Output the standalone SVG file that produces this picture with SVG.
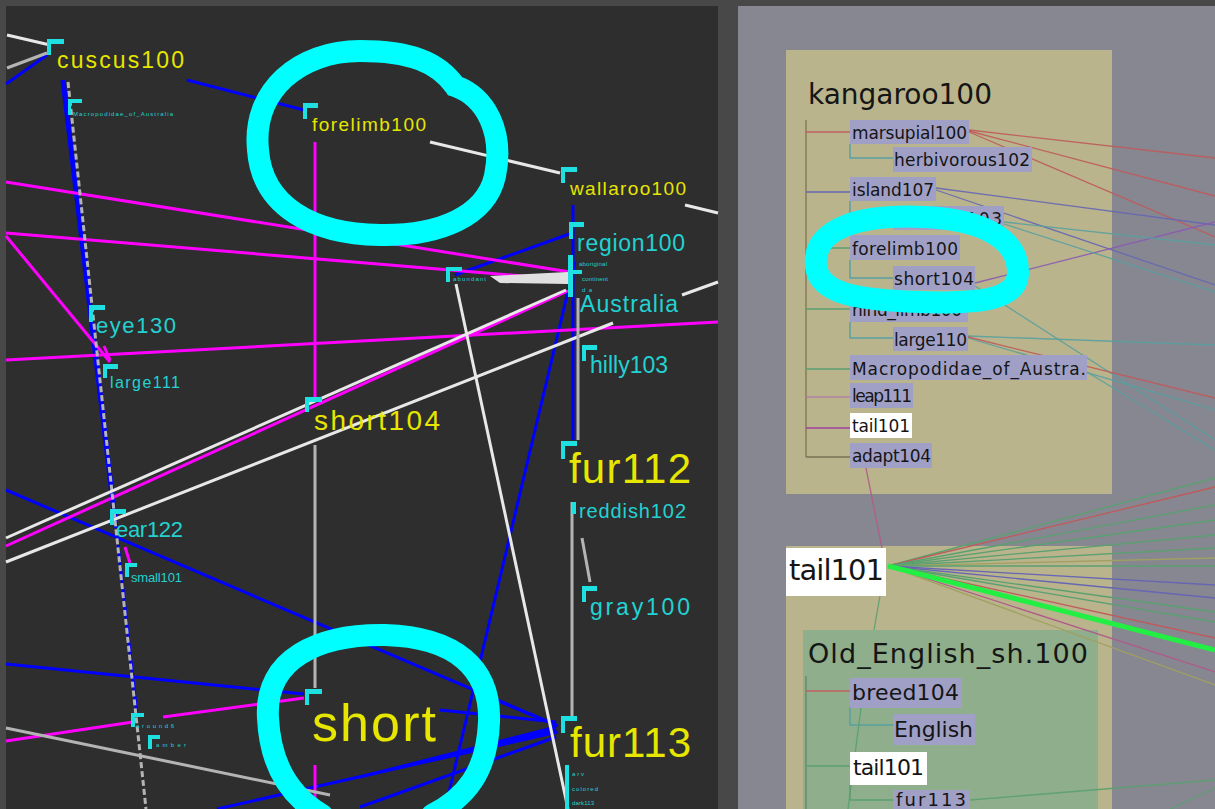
<svg xmlns="http://www.w3.org/2000/svg" width="1215" height="809" viewBox="0 0 1215 809">
<style>
.mk{fill:#1fe0e0}
.ly{fill:#e6e600;font-family:"Liberation Sans",Arial,sans-serif}
.lc{fill:#22d2d2;font-family:"Liberation Sans",Arial,sans-serif}
.tiny{fill:#22d2d2;font-family:"Liberation Sans",Arial,sans-serif;font-size:6px}
.b{stroke:#0000ff;stroke-width:3;fill:none}
.bt{stroke:#0000ff;stroke-width:5;fill:none}
.m{stroke:#ff00ff;stroke-width:3;fill:none}
.w{stroke:#e8e8e8;stroke-width:3;fill:none}
.g{stroke:#b4b4b4;stroke-width:3;fill:none}
.ring{stroke:#00ffff;stroke-width:22;fill:none;stroke-linecap:round}
.it{fill:#a0a0c6}
.rt{fill:#151515;font-family:"DejaVu Sans",Verdana,sans-serif}
.tr{stroke-width:1.5;fill:none}
.th{stroke-width:1.3;fill:none;opacity:0.9}
</style>

<!-- backgrounds -->
<rect x="0" y="0" width="1215" height="809" fill="#484848"/>
<rect x="6" y="6" width="712" height="803" fill="#2e2e2e"/>
<rect x="738" y="6" width="477" height="803" fill="#878791"/>

<!-- right panel containers -->
<rect id="kangaroo-box" x="786" y="50" width="326" height="444" fill="#b9b48c"/>
<rect id="oldenglish-outer" x="786" y="546" width="326" height="263" fill="#b9b48c"/>
<rect id="oldenglish-box" x="803" y="630" width="295" height="179" fill="#8fae8c"/>

<!-- connectors -->
<g id="connectors">
  <!-- left graph: blue -->
  <line class="b" x1="47" y1="55" x2="6" y2="84"/>
  <line class="bt" x1="63" y1="80" x2="116" y2="528"/>
  <line class="b" x1="118" y1="545" x2="137" y2="715"/>
  <line class="b" x1="187" y1="80" x2="304" y2="110"/>
  <line class="b" x1="6" y1="490" x2="558" y2="726"/>
  <line class="b" x1="6" y1="664" x2="304" y2="694"/>
  <line class="b" x1="217" y1="809" x2="558" y2="732"/>
  <line class="b" x1="440" y1="710" x2="556" y2="722"/>
  <line class="b" x1="360" y1="777" x2="556" y2="727"/>
  <line class="b" x1="440" y1="757" x2="556" y2="730"/>
  <line class="b" x1="360" y1="807" x2="556" y2="737"/>
  <line class="b" x1="575" y1="262" x2="445" y2="809"/>
  <line class="b" x1="573" y1="205" x2="573" y2="440"/>
  <line class="b" x1="572" y1="233" x2="455" y2="275"/>
  <line class="b" x1="472" y1="690" x2="556" y2="725"/>
  <!-- left graph: magenta -->
  <line class="m" x1="6" y1="182" x2="570" y2="272"/>
  <line class="m" x1="6" y1="233" x2="570" y2="280"/>
  <line class="m" stroke-width="2" x1="6" y1="236" x2="110" y2="362"/>
  <line class="m" x1="6" y1="360" x2="718" y2="322"/>
  <line class="m" x1="315" y1="142" x2="315" y2="398"/>
  <line class="m" x1="315" y1="765" x2="315" y2="809"/>
  <line class="m" x1="6" y1="546" x2="570" y2="290"/>
  <line class="m" x1="6" y1="741" x2="133" y2="722"/>
  <line class="m" x1="163" y1="717" x2="304" y2="698"/>
  <line class="m" x1="125" y1="547" x2="130" y2="563"/>
  <line class="m" x1="104" y1="346" x2="110" y2="360"/>
  <!-- left graph: white / gray -->
  <line class="w" x1="7" y1="35" x2="50" y2="45"/>
  <line class="g" x1="7" y1="68" x2="47" y2="53"/>
  <line class="w" x1="430" y1="142" x2="560" y2="173"/>
  <line class="w" x1="685" y1="205" x2="718" y2="213"/>
  <line class="g" x1="68" y1="82" x2="146" y2="809" stroke-dasharray="6 3"/>
  <line class="w" x1="6" y1="538" x2="566" y2="290"/>
  <line class="w" x1="6" y1="562" x2="613" y2="323"/>
  <line class="w" x1="682" y1="295" x2="718" y2="282"/>
  <line class="w" x1="456" y1="284" x2="568" y2="809"/>
  <polygon points="490,276 568,272 568,284 500,283" fill="#e0e0e0"/>
  <line class="g" x1="315" y1="445" x2="315" y2="688"/>
  <line class="g" x1="572" y1="502" x2="572" y2="717" stroke-width="4"/>
  <line class="g" x1="578" y1="298" x2="578" y2="440"/>
  <line class="g" x1="582" y1="538" x2="590" y2="582"/>
  <line class="g" x1="6" y1="728" x2="330" y2="795"/>

  <!-- right panel: kangaroo tree -->
  <line stroke="#8a7a5a" class="tr" x1="806" y1="120" x2="806" y2="457"/>
  <line stroke="#c06060" class="tr" x1="806" y1="132" x2="850" y2="132"/>
  <line stroke="#6868b0" class="tr" x1="806" y1="192" x2="850" y2="192"/>
  <line stroke="#5aa070" class="tr" x1="806" y1="248" x2="850" y2="248"/>
  <line stroke="#5aa070" class="tr" x1="806" y1="309" x2="850" y2="309"/>
  <line stroke="#5aa070" class="tr" x1="806" y1="369" x2="850" y2="369"/>
  <line stroke="#b080a0" class="tr" x1="806" y1="397" x2="850" y2="397"/>
  <line stroke="#a040a0" class="tr" x1="806" y1="428" x2="850" y2="428"/>
  <line stroke="#7a7050" class="tr" x1="806" y1="457" x2="850" y2="457"/>
  <polyline stroke="#5aa0a0" class="tr" points="850,144 850,158 893,158"/>
  <polyline stroke="#5aa0a0" class="tr" points="850,201 850,218 893,218"/>
  <polyline stroke="#5aa0a0" class="tr" points="850,260 850,278 893,278"/>
  <polyline stroke="#5aa0a0" class="tr" points="850,322 850,338 893,338"/>
  <!-- right panel: links out of the kangaroo items -->
  <line stroke="#c05a5a" class="th" x1="969" y1="130" x2="1215" y2="158"/>
  <line stroke="#c05a5a" class="th" x1="969" y1="131" x2="1215" y2="196"/>
  <line stroke="#c05a5a" class="th" x1="969" y1="132" x2="1215" y2="237"/>
  <line stroke="#6666b4" class="th" x1="936" y1="188" x2="1215" y2="225"/>
  <line stroke="#6666b4" class="th" x1="936" y1="190" x2="1215" y2="285"/>
  <line stroke="#8a5ab4" class="th" x1="975" y1="283" x2="1215" y2="222"/>
  <line stroke="#5aa0a0" class="th" x1="1004" y1="222" x2="1215" y2="245"/>
  <line stroke="#5aa0a0" class="th" x1="1004" y1="224" x2="1215" y2="292"/>
  <line stroke="#5aa0a0" class="th" x1="975" y1="286" x2="1215" y2="440"/>
  <line stroke="#5aa0a0" class="th" x1="968" y1="336" x2="1215" y2="345"/>
  <line stroke="#5aa0a0" class="th" x1="968" y1="338" x2="1215" y2="410"/>
  <line stroke="#c05a5a" class="th" x1="968" y1="337" x2="1215" y2="398"/>
  <line stroke="#5aa0a0" class="th" x1="1087" y1="372" x2="1215" y2="450"/>
  <line stroke="#b05a8a" class="th" x1="866" y1="468" x2="882" y2="548"/>
  <line stroke="#5aa070" class="th" x1="880" y1="596" x2="874" y2="630"/>
  <!-- fan out of tail101 -->
  <g stroke-width="1.3" fill="none">
    <line stroke="#5aa070" x1="888" y1="566" x2="1215" y2="478"/>
    <line stroke="#c05a5a" x1="888" y1="566" x2="1215" y2="487"/>
    <line stroke="#5aa070" x1="888" y1="566" x2="1215" y2="505"/>
    <line stroke="#5aa070" x1="888" y1="566" x2="1215" y2="520"/>
    <line stroke="#5aa070" x1="888" y1="566" x2="1215" y2="535"/>
    <line stroke="#5aa070" x1="888" y1="566" x2="1215" y2="548"/>
    <line stroke="#a0a060" x1="888" y1="566" x2="1215" y2="558"/>
    <line stroke="#5aa070" x1="888" y1="566" x2="1215" y2="566"/>
    <line stroke="#6666b4" x1="888" y1="566" x2="1215" y2="585"/>
    <line stroke="#6666b4" x1="888" y1="566" x2="1215" y2="598"/>
    <line stroke="#5aa070" x1="888" y1="566" x2="1215" y2="612"/>
    <line stroke="#5aa070" x1="888" y1="566" x2="1215" y2="622"/>
    <line stroke="#c05a5a" x1="888" y1="566" x2="1215" y2="638"/>
    <line stroke="#b05a8a" x1="888" y1="566" x2="1215" y2="672"/>
    <line stroke="#a0a060" x1="888" y1="566" x2="1215" y2="685"/>
  </g>
  <line stroke="#22ee44" stroke-width="5" x1="888" y1="566" x2="1215" y2="650"/>
  <!-- Old_English tree -->
  <line stroke="#6a8a6a" class="tr" x1="806" y1="676" x2="806" y2="809"/>
  <line stroke="#c06060" class="tr" x1="806" y1="691" x2="850" y2="691"/>
  <line stroke="#5aa070" class="tr" x1="806" y1="766" x2="850" y2="766"/>
  <polyline stroke="#5aa0a0" class="tr" points="850,707 850,725 893,725"/>
  <polyline stroke="#5aa070" class="tr" points="850,785 850,800 893,800"/>
  <line stroke="#5aa070" class="th" x1="862" y1="700" x2="848" y2="809"/>
  <line stroke="#5aa070" class="th" x1="970" y1="800" x2="1215" y2="780"/>
  <line stroke="#5aa070" class="th" x1="1170" y1="809" x2="1215" y2="788"/>
</g>

<!-- left graph nodes -->
<g id="n-cuscus100"><rect class="mk" x="47" y="39" width="17" height="5"/><rect class="mk" x="47" y="39" width="4" height="16"/><text class="ly" x="57" y="68" font-size="23" textLength="127" fill="#cccc00">cuscus100</text></g>
<g id="n-macropodidae"><rect class="mk" x="68" y="99" width="14" height="4"/><rect class="mk" x="68" y="99" width="3" height="16"/><text class="tiny" x="73" y="116" textLength="100">Macropodidae_of_Australia</text></g>
<g id="n-forelimb100"><rect class="mk" x="303" y="103" width="15" height="5"/><rect class="mk" x="303" y="103" width="4" height="16"/><text class="ly" x="312" y="131" font-size="19" textLength="114" fill="#d8d800">forelimb100</text></g>
<g id="n-wallaroo100"><rect class="mk" x="561" y="167" width="16" height="5"/><rect class="mk" x="561" y="167" width="4" height="16"/><text class="ly" x="570" y="195" font-size="19" textLength="116" fill="#d8d800">wallaroo100</text></g>
<g id="n-region100"><rect class="mk" x="569" y="222" width="15" height="5"/><rect class="mk" x="569" y="222" width="4" height="17"/><text class="lc" x="577" y="251" font-size="23" textLength="108">region100</text></g>
<g id="n-aus-cluster"><rect class="mk" x="568" y="255" width="5" height="42"/><rect class="mk" x="568" y="270" width="14" height="4"/><text class="tiny" x="579" y="266" textLength="28">aboriginal</text><text class="tiny" x="582" y="281" textLength="26">continent</text><text class="tiny" x="582" y="292" textLength="10">da</text></g>
<g id="n-australia"><text class="lc" x="580" y="312" font-size="23" textLength="98">Australia</text></g>
<g id="n-hilly103"><rect class="mk" x="582" y="345" width="15" height="5"/><rect class="mk" x="582" y="345" width="4" height="16"/><text class="lc" x="590" y="373" font-size="23" textLength="78">hilly103</text></g>
<g id="n-fur112"><rect class="mk" x="561" y="441" width="16" height="5"/><rect class="mk" x="561" y="441" width="4" height="18"/><text class="ly" x="569" y="483" font-size="42" textLength="122" fill="#f0f000">fur112</text></g>
<g id="n-reddish102"><rect class="mk" x="572" y="502" width="4" height="12"/><text class="lc" x="579" y="518" font-size="20" textLength="107">reddish102</text></g>
<g id="n-gray100"><rect class="mk" x="582" y="586" width="15" height="5"/><rect class="mk" x="582" y="586" width="4" height="16"/><text class="lc" x="590" y="615" font-size="23" textLength="100">gray100</text></g>
<g id="n-fur113"><rect class="mk" x="561" y="716" width="16" height="5"/><rect class="mk" x="561" y="716" width="4" height="17"/><text class="ly" x="570" y="757" font-size="42" textLength="121" fill="#f0f000">fur113</text></g>
<g id="n-fur113-kids"><rect class="mk" x="565" y="765" width="4" height="44"/><text class="tiny" x="572" y="776" textLength="12">arv</text><text class="tiny" x="572" y="791" textLength="26">colored</text><text class="tiny" x="572" y="805" textLength="22">dark113</text></g>
<g id="n-tiny-node"><rect class="mk" x="446" y="267" width="16" height="4"/><rect class="mk" x="446" y="267" width="4" height="15"/><text class="tiny" x="453" y="281" textLength="33">abundant</text></g>
<g id="n-short104"><rect class="mk" x="305" y="397" width="17" height="5"/><rect class="mk" x="305" y="397" width="4" height="15"/><text class="ly" x="314" y="430" font-size="28" textLength="126" fill="#f0f000">short104</text></g>
<g id="n-short"><rect class="mk" x="305" y="689" width="17" height="5"/><rect class="mk" x="305" y="689" width="4" height="16"/><text class="ly" x="312" y="741" font-size="52" textLength="124" fill="#f0f000">short</text></g>
<g id="n-eye130"><rect class="mk" x="89" y="305" width="16" height="5"/><rect class="mk" x="89" y="305" width="4" height="17"/><text class="lc" x="96" y="333" font-size="22" textLength="80">eye130</text></g>
<g id="n-large111"><rect class="mk" x="103" y="364" width="15" height="5"/><rect class="mk" x="103" y="364" width="4" height="14"/><text class="lc" x="110" y="388" font-size="16" textLength="70">large111</text></g>
<g id="n-ear122"><rect class="mk" x="110" y="509" width="16" height="5"/><rect class="mk" x="110" y="509" width="4" height="16"/><text class="lc" x="116" y="537" font-size="22" textLength="67">ear122</text></g>
<g id="n-small101"><rect class="mk" x="125" y="563" width="12" height="4"/><rect class="mk" x="125" y="563" width="4" height="14"/><text class="lc" x="131" y="582" font-size="13" textLength="51">small101</text></g>
<g id="n-tiny-a"><rect class="mk" x="131" y="713" width="13" height="4"/><rect class="mk" x="131" y="713" width="4" height="14"/><text class="tiny" x="136" y="728" textLength="38">around6</text></g>
<g id="n-tiny-b"><rect class="mk" x="148" y="735" width="12" height="4"/><rect class="mk" x="148" y="735" width="4" height="14"/><text class="tiny" x="156" y="747" textLength="30">amber</text></g>

<!-- highlight rings -->
<path class="ring" d="M258,150 C252,90 300,51 360,51 C410,51 438,62 455,86 C486,97 504,132 495,176 C486,216 440,236 380,235 C312,234 262,206 258,150 Z"/>
<path class="ring" d="M268,718 C264,658 320,634 385,635 C455,637 491,668 489,722 C487,773 465,798 432,815 M268,718 C270,762 288,795 322,815"/>

<!-- kangaroo100 frame -->
<g id="n-kangaroo100"><text class="rt" x="808" y="104" font-size="28" textLength="184">kangaroo100</text></g>
<g id="n-marsupial100"><rect class="it" x="850" y="120" width="119" height="24"/><text class="rt" x="852" y="139" font-size="17" textLength="115">marsupial100</text></g>
<g id="n-herbivorous102"><rect class="it" x="893" y="147" width="139" height="25"/><text class="rt" x="894" y="166" font-size="17" textLength="136">herbivorous102</text></g>
<g id="n-island107"><rect class="it" x="850" y="177" width="86" height="24"/><text class="rt" x="852" y="196" font-size="17" textLength="82">island107</text></g>
<g id="n-flat103"><rect class="it" x="893" y="206" width="111" height="24"/><text class="rt" x="958" y="225" font-size="17" textLength="44">t103</text></g>
<g id="n-forelimb100-k"><rect class="it" x="850" y="235" width="110" height="25"/><text class="rt" x="852" y="255" font-size="17" textLength="106">forelimb100</text></g>
<g id="n-short104-k"><rect class="it" x="893" y="266" width="82" height="24"/><text class="rt" x="894" y="285" font-size="17" textLength="80">short104</text></g>
<g id="n-hind"><rect class="it" x="850" y="296" width="118" height="26"/><text class="rt" x="852" y="316" font-size="17" textLength="110">hind_limb100</text></g>
<g id="n-large110"><rect class="it" x="893" y="327" width="75" height="24"/><text class="rt" x="894" y="346" font-size="17" textLength="73">large110</text></g>
<g id="n-macropodidae-k"><rect class="it" x="850" y="355" width="237" height="25"/><text class="rt" x="852" y="375" font-size="17" textLength="234">Macropodidae_of_Austra.</text></g>
<g id="n-leap111"><rect class="it" x="850" y="383" width="63" height="25"/><text class="rt" x="852" y="402" font-size="17" textLength="60">leap111</text></g>
<g id="n-tail101-k"><rect x="850" y="413" width="62" height="25" fill="#ffffff"/><text class="rt" x="852" y="432" font-size="17" textLength="58" fill="#707070">tail101</text></g>
<g id="n-adapt104"><rect class="it" x="850" y="443" width="82" height="25"/><text class="rt" x="852" y="462" font-size="17" textLength="79">adapt104</text></g>

<path class="ring" stroke-width="20" d="M816,266 C812,228 860,214 925,217 C988,220 1018,242 1018,272 C1018,300 980,304 920,302 C858,300 819,294 816,266 Z"/>

<!-- tail101 focus -->
<g id="n-tail101"><rect x="786" y="548" width="100" height="48" fill="#ffffff"/><text class="rt" x="789" y="580" font-size="29" textLength="95" fill="#000">tail101</text></g>

<!-- Old_English frame -->
<g id="n-oldenglish"><text class="rt" x="808" y="663" font-size="27" textLength="280">Old_English_sh.100</text></g>
<g id="n-breed104"><rect class="it" x="850" y="678" width="112" height="30"/><text class="rt" x="852" y="700" font-size="22" textLength="107">breed104</text></g>
<g id="n-english"><rect class="it" x="893" y="714" width="82" height="31"/><text class="rt" x="894" y="737" font-size="22" textLength="79">English</text></g>
<g id="n-tail101-o"><rect x="850" y="752" width="77" height="33" fill="#ffffff"/><text class="rt" x="853" y="775" font-size="22" textLength="71" fill="#707070">tail101</text></g>
<g id="n-fur113-o"><rect class="it" x="893" y="790" width="77" height="19"/><text class="rt" x="896" y="806" font-size="18" textLength="70" fill="#8585a8">fur113</text></g>
</svg>
